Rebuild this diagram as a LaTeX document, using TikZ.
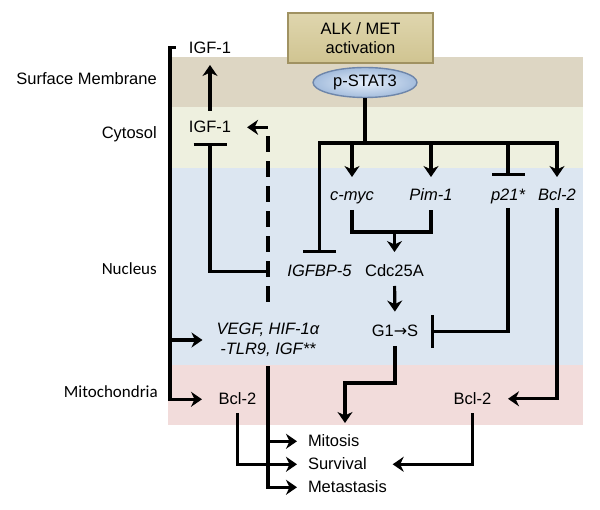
\documentclass[tikz,border=0pt]{standalone}
\usepackage{fontspec}
\setmainfont{Liberation Sans}
\newfontfamily\calfont{Carlito}
\newfontfamily\arrfont{DejaVu Sans}
\usetikzlibrary{arrows.meta,shapes.geometric,calc}
\definecolor{memb}{HTML}{DDD6C3}
\definecolor{cyto}{HTML}{EEF0DF}
\definecolor{nucl}{HTML}{DCE6F1}
\definecolor{mito}{HTML}{F2DCDB}
\definecolor{boxtop}{HTML}{DFD6AE}
\definecolor{boxbot}{HTML}{D0C491}
\definecolor{boxedge}{HTML}{A09262}
\definecolor{ellin}{HTML}{E6EFFB}
\definecolor{ellout}{HTML}{A3BCDC}
\definecolor{elledge}{HTML}{6E86AA}
\begin{document}
\begin{tikzpicture}[x=1pt,y=-1pt,
  lbl/.style={inner sep=0pt, outer sep=0pt, text height=11.4pt, text depth=0pt, font=\fontsize{16.5}{20}\selectfont},
  itl/.style={lbl, font=\fontsize{16.5}{20}\selectfont\itshape},
  side/.style={anchor=base east, inner sep=0pt, font=\fontsize{16.5}{20}\selectfont},
  sidec/.style={anchor=base east, inner sep=0pt, font=\calfont\fontsize{17}{20}\selectfont},
  link/.style={line width=3.2pt, line join=miter},
  act/.style={link, -{Stealth[length=11pt,width=15pt,inset=3.5pt]}},
  inh/.style={link, -{Bar[width=33pt]}},
]
\useasboundingbox (0,0) rectangle (600,510);
% compartments
\fill[memb] (168,57) rectangle (583,107.5);
\fill[cyto] (168,107.5) rectangle (583,168);
\fill[nucl] (168,168) rectangle (583,365.5);
\fill[mito] (168,365.5) rectangle (583,425);
% side labels
\node[side] (lsurf) at (157,85) {Surface Membrane};
\node[side] (lcyto) at (157,139) {Cytosol};
\node[sidec] (lnuc) at (157,275) {Nucleus};
\node[sidec] (lmito) at (158,398) {Mitochondria};
% top
\node[draw=boxedge, line width=1.5pt, top color=boxtop, bottom color=boxbot, minimum width=145pt, minimum height=50pt,
  align=center, inner sep=0pt, font=\fontsize{16.5}{19}\selectfont] (alk) at (360.5,38) {ALK / MET\\activation};
\node[ellipse, draw=elledge, line width=1.4pt, inner color=ellin, outer color=ellout,
  minimum width=104pt, minimum height=30pt, inner sep=0pt, font=\fontsize{16.5}{20}\selectfont] (stat) at (365,82.5) {p-STAT3};
% nodes
\node[lbl, anchor=base] (igfA) at (210,53.5) {IGF-1};
\node[lbl, anchor=base] (igfB) at (210,133) {IGF-1};
\node[itl, anchor=base] (cmyc) at (352,201) {c-myc};
\node[itl, anchor=base] (pim) at (431,201) {Pim-1};
\node[itl, anchor=base] (p21) at (508,201) {p21*};
\node[itl, anchor=base] (bcl2n) at (557,201) {Bcl-2};
\node[itl, anchor=base] (igfbp) at (319.5,277) {IGFBP-5};
\node[lbl, anchor=base] (cdc) at (394.5,277) {Cdc25A};
\node[lbl, anchor=base] (g1s) at (395,337) {G1{\arrfont\fontsize{16}{20}\selectfont →}S};
\node[inner sep=0pt, align=center, font=\fontsize{16.5}{20}\selectfont\itshape] (vegf) at (268,340) {VEGF, HIF-1α\\-TLR9, IGF**};
\node[lbl, anchor=base] (bcl2l) at (237.5,405) {Bcl-2};
\node[lbl, anchor=base] (bcl2r) at (472.5,404.5) {Bcl-2};
\node[lbl, anchor=base west] (mitosis) at (308,447) {Mitosis};
\node[lbl, anchor=base west] (survival) at (308,470) {Survival};
\node[lbl, anchor=base west] (metast) at (308,493) {Metastasis};
% left spine
\coordinate (spine) at (170,47.8);
\draw[act, shorten <=13pt, shorten >=16.7pt] (igfA.west) -- (spine) |- (bcl2l.west);
\draw[act, shorten >=14pt] (spine |- vegf.west) -- (vegf.west);
% IGF-1
\draw[act, shorten <=10.6pt, shorten >=11.5pt] (igfB.north) -- (igfA.south);
\draw[inh, shorten <=19.4pt, shorten >=10pt] (igfbp.west) -| (igfB.south);
\draw[link, dash pattern=on 16pt off 9pt, -{Stealth[length=11pt,width=15pt,inset=3.5pt]},
  shorten <=21pt, shorten >=16pt] (vegf.north) |- (igfB.east);
% p-STAT3 targets
\coordinate (bar) at (365,143);
\draw[link] (stat.south) -- (bar);
\draw[inh, shorten >=12.6pt] (bar) -| (igfbp.north);
\draw[act, shorten >=12.6pt] (bar) -| (bcl2n.north);
\draw[act, shorten >=12.6pt] (cmyc.north |- bar) -- (cmyc.north);
\draw[act, shorten >=12.6pt] (pim.north |- bar) -- (pim.north);
\draw[inh, shorten >=13.6pt] (p21.north |- bar) -- (p21.north);
% cell cycle
\coordinate (merge) at (394.5,232);
\draw[link, shorten <=9pt, shorten >=9pt] (cmyc.south) |- (merge) -| (pim.south);
\draw[act, shorten >=13.6pt] (merge) -- (cdc.north);
\draw[act, shorten <=9pt, shorten >=14pt] (cdc.south) -- (g1s.north);
\draw[inh, shorten <=7pt, shorten >=13pt] (p21.south) |- (g1s.east);
\coordinate (gbend) at (345,383);
\coordinate (gtip) at (345,423);
\draw[act, shorten <=9pt] (g1s.south) |- (gbend) -- (gtip);
% Bcl-2
\draw[act, shorten <=7pt, shorten >=16.7pt] (bcl2n.south) |- (bcl2r.east);
\draw[act, shorten <=9pt, shorten >=26pt] (bcl2r.south) |- (survival.east);
\draw[act, shorten <=8pt, shorten >=11pt] (bcl2l.south) |- (survival.west);
% outcomes
\draw[act, shorten <=9pt, shorten >=11pt] (vegf.south) |- (metast.west);
\draw[act, shorten >=11pt] (vegf.south |- mitosis.west) -- (mitosis.west);
\end{tikzpicture}
\end{document}
